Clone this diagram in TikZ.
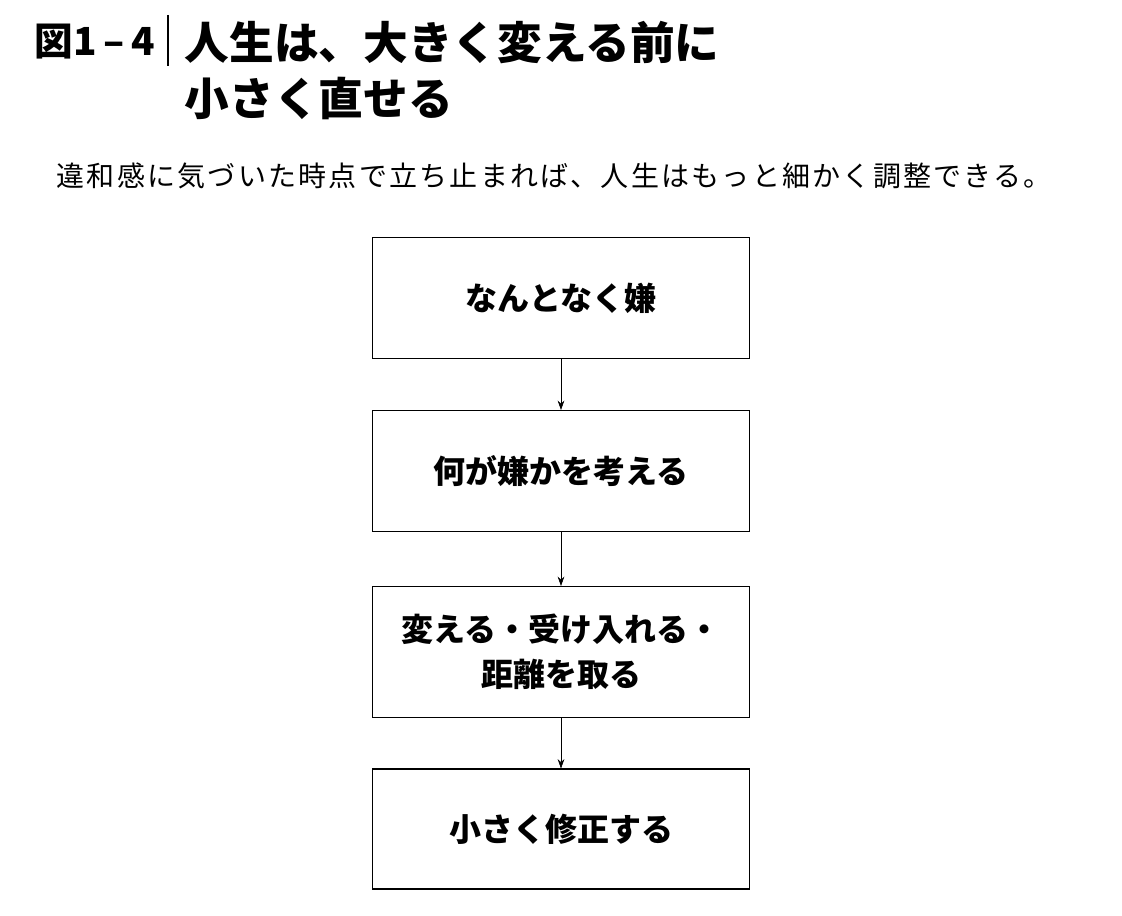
\documentclass[tikz,border=0pt]{standalone}
\usepackage{fontspec}
\setmainfont{Noto Sans CJK JP}
\newfontfamily\cjk{Noto Sans CJK JP}
\newfontfamily\cjkwide{Noto Sans CJK JP}[LetterSpace=8]
\usetikzlibrary{positioning,arrows.meta}

\begin{document}
\begin{tikzpicture}[x=0.75pt, y=-0.75pt,
  stepbox/.style={draw, thick, minimum width=377*0.75pt, align=center, font=\fontsize{24}{34}\selectfont\bfseries},
  flow/.style={-{Stealth[length=7pt,width=5pt]}}]
  \useasboundingbox (0,0) rectangle (1122,916);

  % Title
  \node[anchor=west, font=\fontsize{29}{36}\selectfont\bfseries] (fig) at (30,42) {図1\,–\,4};
  \draw[thick] (168,15) -- (168,66);
  \node[anchor=west, font=\fontsize{33.5}{42}\selectfont\bfseries, align=left] (title) at (180,71) {人生は、大きく変える前に\\小さく直せる};
  \node[anchor=west, font=\cjkwide\fontsize{21}{24}\selectfont] (sub) at (52,176) {違和感に気づいた時点で立ち止まれば、人生はもっと細かく調整できる。};

  % Steps
  \node[stepbox, minimum height=121*0.75pt] (s1) at (561,298) {なんとなく嫌};
  \node[stepbox, minimum height=121*0.75pt] (s2) at (561,471) {何が嫌かを考える};
  \node[stepbox, minimum height=131*0.75pt] (s3) at (561,652) {変える・受け入れる・\\距離を取る};
  \node[stepbox, minimum height=120*0.75pt] (s4) at (561,829) {小さく修正する};

  \draw[flow] (s1) -- (s2);
  \draw[flow] (s2) -- (s3);
  \draw[flow] (s3) -- (s4);
\end{tikzpicture}
\end{document}
